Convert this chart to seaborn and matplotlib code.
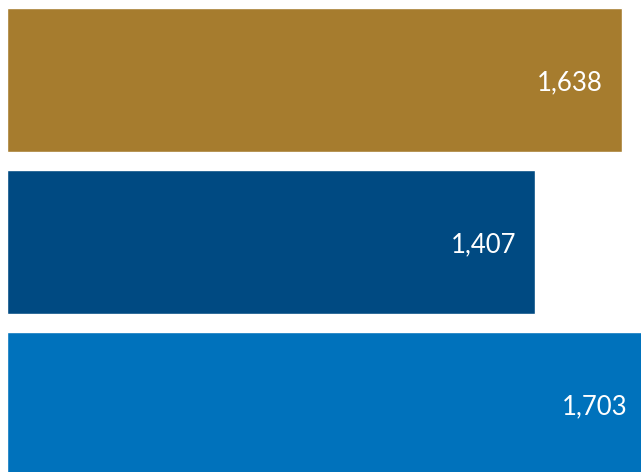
import matplotlib
matplotlib.use('Agg')
import matplotlib.pyplot as plt
import seaborn as sns
import pandas as pd

# ---- data ----
categories = ['A', 'B', 'C']
values = [1638, 1407, 1703]
colors = ['#A67C2E', '#004A82', '#0072BC']
labels = ['1,638', '1,407', '1,703']

df = pd.DataFrame({'cat': categories, 'val': values})

sns.set_style('white')
plt.rcParams['font.family'] = ['Lato', 'DejaVu Sans']

fig = plt.figure(figsize=(6.41, 4.72), dpi=100)
ax = fig.add_axes([7 / 641, 0, 634 / 641, 1])

sns.barplot(data=df, x='val', y='cat', hue='cat', palette=colors,
            orient='h', width=0.889, legend=False, ax=ax, saturation=1)

for i, (v, lab) in enumerate(zip(values, labels)):
    ax.annotate(lab, xy=(v, i), xytext=(-14, -2), textcoords='offset points',
                ha='right', va='center', color='white', fontsize=18.5,
                annotation_clip=False)

ax.set_xlim(0, 1688)
ax.set_ylim(2.42, -0.494)
ax.axis('off')

fig.savefig('out.png', dpi=100)
